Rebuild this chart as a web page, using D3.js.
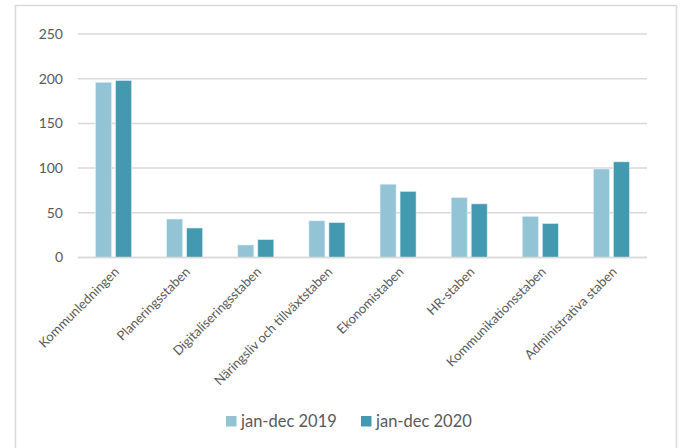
<!DOCTYPE html>
<html>
<head>
<meta charset="utf-8">
<script src="https://cdn.jsdelivr.net/npm/d3@7"></script>
<style>
  html, body { margin: 0; padding: 0; background: #fff; }
  svg { display: block; font-family: Lato, "Open Sans", sans-serif; }
</style>
</head>
<body>
<svg id="chart" width="682" height="448"></svg>
<script>
// Ärenden per stab, jan-dec 2019 och 2020
const categories = [
  "Kommunledningen", "Planeringsstaben", "Digitaliseringsstaben",
  "Näringsliv och tillväxtstaben", "Ekonomistaben", "HR-staben",
  "Kommunikationsstaben", "Administrativa staben"
];
const seriesNames = ["jan-dec 2019", "jan-dec 2020"];
const values2019 = [196, 43, 14, 41, 82, 67, 46, 99];
const values2020 = [198, 33, 20, 39, 74, 60, 38, 107];
const yTicks = [0, 50, 100, 150, 200, 250];
const colors = ["#93c4d5", "#4399b0"];

const svg = d3.select("#chart");
const textColor = "#595959";
const gridColor = "#d9d9d9";

// chart frame
svg.append("rect")
  .attr("x", 15.5).attr("y", 5.5)
  .attr("width", 661).attr("height", 460)
  .attr("fill", "#fff").attr("stroke", gridColor).attr("stroke-width", 1.5);

const plot = { left: 78, right: 647, top: 34, bottom: 257.5 };

const x = d3.scaleBand().domain(categories).range([plot.left, plot.right]);
const y = d3.scaleLinear().domain([0, 250]).range([plot.bottom, plot.top]);

// gridlines
svg.append("g").selectAll("line").data(yTicks).join("line")
  .attr("x1", plot.left).attr("x2", plot.right)
  .attr("y1", d => y(d)).attr("y2", d => y(d))
  .attr("stroke", gridColor).attr("stroke-width", 1.5);

// y axis labels
const yAxis = d3.axisLeft(y).tickValues(yTicks).tickSize(0).tickPadding(0);
const gy = svg.append("g").attr("transform", `translate(${plot.left - 15},0)`).call(yAxis);
gy.select(".domain").remove();
gy.selectAll("text").attr("fill", textColor).style("font-size", "14px")
  .style("font-family", "Lato, sans-serif");

// bars
const barW = 16, gap = 4;
const data = categories.map((c, i) => ({ c, v: [values2019[i], values2020[i]] }));
const groups = svg.append("g").selectAll("g").data(data).join("g")
  .attr("transform", d => `translate(${x(d.c) + x.bandwidth() / 2},0)`);
groups.selectAll("rect").data(d => d.v.map((v, k) => ({ v, k }))).join("rect")
  .attr("x", d => d.k === 0 ? -gap / 2 - barW : gap / 2)
  .attr("width", barW)
  .attr("y", d => y(d.v))
  .attr("height", d => y(0) - y(d.v))
  .attr("fill", d => colors[d.k])
  .attr("stroke", "#dbeef4").attr("stroke-width", 0.6);

// baseline over bars
svg.append("line")
  .attr("x1", plot.left).attr("x2", plot.right)
  .attr("y1", y(0)).attr("y2", y(0))
  .attr("stroke", gridColor).attr("stroke-width", 1.5);

// x axis labels
svg.append("g").selectAll("text").data(categories).join("text")
  .attr("transform", d => `translate(${x(d) + x.bandwidth() / 2 + 3},${plot.bottom + 12}) rotate(-45)`)
  .attr("text-anchor", "end")
  .attr("dy", "0.35em")
  .attr("fill", textColor)
  .style("font-size", "13px")
  .text(d => d);

// legend
const legend = svg.append("g").attr("transform", "translate(226,416)");
const items = legend.selectAll("g").data(seriesNames).join("g")
  .attr("transform", (d, i) => `translate(${i * 135},0)`);
items.append("rect").attr("width", 10.5).attr("height", 10.5)
  .attr("fill", (d, i) => colors[i]);
items.append("text").attr("x", 15).attr("y", 5.5).attr("dy", "0.36em")
  .attr("fill", textColor).style("font-size", "16.5px").text(d => d);
</script>
</body>
</html>
